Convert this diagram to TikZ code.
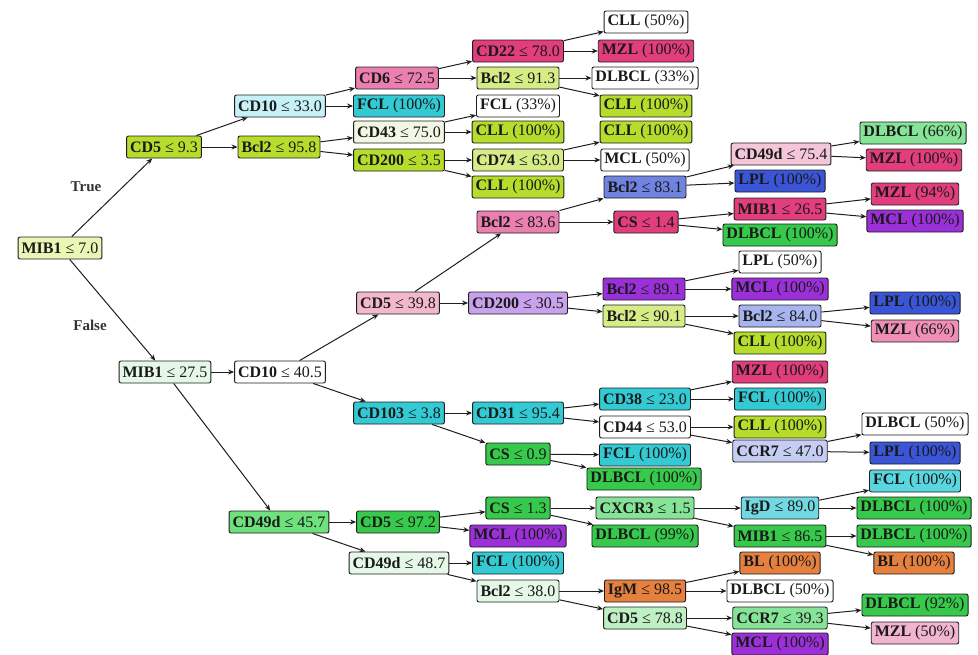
\documentclass[tikz,border=0pt]{standalone}
\usepackage{fontspec}
\setmainfont{Liberation Serif}
\usetikzlibrary{arrows.meta}

% fill colours of the boxes
\definecolor{cRoot}{HTML}{E9F6B5}
\definecolor{cLime}{HTML}{B6DC2C}
\definecolor{cPaleLime}{HTML}{D6EC86}
\definecolor{cPaleGreen}{HTML}{F1F7E2}
\definecolor{cMint}{HTML}{E5F8E7}
\definecolor{cPaleCyan}{HTML}{C6F1F6}
\definecolor{cCyan}{HTML}{33CAD4}
\definecolor{cSky}{HTML}{5AD6E0}
\definecolor{cTeal}{HTML}{72D9E2}
\definecolor{cPink}{HTML}{EA7FB0}
\definecolor{cMagenta}{HTML}{E23D7C}
\definecolor{cBlush}{HTML}{F4C6D8}
\definecolor{cRose}{HTML}{F3B8CE}
\definecolor{cRose2}{HTML}{F08FB6}
\definecolor{cRose3}{HTML}{F1B5D0}
\definecolor{cBlue}{HTML}{3A55D6}
\definecolor{cMidBlue}{HTML}{7083E0}
\definecolor{cLightBlue}{HTML}{A6B4EF}
\definecolor{cPaleBlue}{HTML}{C6CDF2}
\definecolor{cPurple}{HTML}{9B30D8}
\definecolor{cLavender}{HTML}{C9A2EE}
\definecolor{cGreen}{HTML}{36C94C}
\definecolor{cGreen2}{HTML}{6EE07C}
\definecolor{cGreen3}{HTML}{86E498}
\definecolor{cGreen4}{HTML}{BFF0C4}
\definecolor{cOrange}{HTML}{E6803E}
\definecolor{cWhite}{HTML}{FFFFFF}
\definecolor{cEdge}{HTML}{1E1E1E}

\newcommand\cnd[2]{\textbf{#1} ≤ #2}
\newcommand\lf[2]{\textbf{#1} (#2\%)}

\tikzset{
  box/.style={draw=cEdge, line width=0.9pt, rounded corners=2pt,
    inner xsep=3.5pt, inner ysep=0pt, minimum height=22pt,
    font=\fontsize{16}{18}\selectfont, text=black!90},
  link/.style={draw=cEdge, line width=1pt,
    -{Stealth[length=6pt,width=5pt]}},
  branchlabel/.style={font=\fontsize{15}{17}\selectfont\bfseries, text=black!80}
}

\begin{document}
\begin{tikzpicture}[x=1pt,y=-1pt]
\useasboundingbox (0,0) rectangle (978,654);

% root and first split
\node[box, fill=cRoot]      (r)  at (60,248)  {\cnd{MIB1}{7.0}};
\node[box, fill=cLime]      (a)  at (164,147) {\cnd{CD5}{9.3}};
\node[box, fill=cMint]      (F)  at (165,372) {\cnd{MIB1}{27.5}};

% upper subtree
\node[box, fill=cPaleCyan]  (b)  at (280,106) {\cnd{CD10}{33.0}};
\node[box, fill=cLime]      (c)  at (279,147) {\cnd{Bcl2}{95.8}};
\node[box, fill=cPink]      (d)  at (397,78)  {\cnd{CD6}{72.5}};
\node[box, fill=cCyan]      (e)  at (399,106) {\lf{FCL}{100}};
\node[box, fill=cPaleGreen] (f)  at (399,132) {\cnd{CD43}{75.0}};
\node[box, fill=cLime]      (g)  at (399,160) {\cnd{CD200}{3.5}};
\node[box, fill=cMagenta]   (h)  at (518,51)  {\cnd{CD22}{78.0}};
\node[box, fill=cPaleLime]  (i)  at (518,78)  {\cnd{Bcl2}{91.3}};
\node[box, fill=cWhite]     (j)  at (518,106) {\lf{FCL}{33}};
\node[box, fill=cLime]      (k)  at (518,132) {\lf{CLL}{100}};
\node[box, fill=cPaleLime]  (l)  at (518,160) {\cnd{CD74}{63.0}};
\node[box, fill=cLime]      (m)  at (518,187) {\lf{CLL}{100}};
\node[box, fill=cWhite]     (n)  at (646,22)  {\lf{CLL}{50}};
\node[box, fill=cMagenta]   (o)  at (646,51)  {\lf{MZL}{100}};
\node[box, fill=cWhite]     (p)  at (645,78)  {\lf{DLBCL}{33}};
\node[box, fill=cLime]      (q)  at (646,106) {\lf{CLL}{100}};
\node[box, fill=cLime]      (s)  at (646,132) {\lf{CLL}{100}};
\node[box, fill=cWhite]     (t)  at (645,160) {\lf{MCL}{50}};

% lower subtree, CD10 branch
\node[box, fill=cWhite]     (G)  at (280,372) {\cnd{CD10}{40.5}};
\node[box, fill=cRose]      (H)  at (398,303) {\cnd{CD5}{39.8}};
\node[box, fill=cPink]      (v)  at (518,222) {\cnd{Bcl2}{83.6}};
\node[box, fill=cMidBlue]   (u)  at (645,187) {\cnd{Bcl2}{83.1}};
\node[box, fill=cMagenta]   (w)  at (646,222) {\cnd{CS}{1.4}};
\node[box, fill=cBlush]     (x1) at (781,154) {\cnd{CD49d}{75.4}};
\node[box, fill=cBlue]      (x2) at (780,181) {\lf{LPL}{100}};
\node[box, fill=cMagenta]   (x3) at (780,209) {\cnd{MIB1}{26.5}};
\node[box, fill=cGreen]     (x4) at (780,235) {\lf{DLBCL}{100}};
\node[box, fill=cGreen3]    (x5) at (913,133) {\lf{DLBCL}{66}};
\node[box, fill=cMagenta]   (x6) at (914,160) {\lf{MZL}{100}};
\node[box, fill=cMagenta]   (x7) at (915,194) {\lf{MZL}{94}};
\node[box, fill=cPurple]    (x8) at (915,221) {\lf{MCL}{100}};

\node[box, fill=cLavender]  (I)  at (518,303) {\cnd{CD200}{30.5}};
\node[box, fill=cPurple]    (J)  at (644,289) {\cnd{Bcl2}{89.1}};
\node[box, fill=cPaleLime]  (K)  at (644,316) {\cnd{Bcl2}{90.1}};
\node[box, fill=cWhite]     (L)  at (780,262) {\lf{LPL}{50}};
\node[box, fill=cPurple]    (M)  at (780,289) {\lf{MCL}{100}};
\node[box, fill=cLightBlue] (N)  at (780,316) {\cnd{Bcl2}{84.0}};
\node[box, fill=cLime]      (O)  at (780,343) {\lf{CLL}{100}};
\node[box, fill=cBlue]      (P)  at (915,303) {\lf{LPL}{100}};
\node[box, fill=cRose2]     (Q)  at (915,331) {\lf{MZL}{66}};

\node[box, fill=cCyan]      (R)  at (399,413) {\cnd{CD103}{3.8}};
\node[box, fill=cCyan]      (S)  at (518,413) {\cnd{CD31}{95.4}};
\node[box, fill=cCyan]      (T)  at (645,399) {\cnd{CD38}{23.0}};
\node[box, fill=cWhite]     (U)  at (645,427) {\cnd{CD44}{53.0}};
\node[box, fill=cGreen]     (V)  at (518,454) {\cnd{CS}{0.9}};
\node[box, fill=cMagenta]   (W)  at (780,372) {\lf{MZL}{100}};
\node[box, fill=cCyan]      (X)  at (780,399) {\lf{FCL}{100}};
\node[box, fill=cLime]      (Y)  at (780,427) {\lf{CLL}{100}};
\node[box, fill=cPaleBlue]  (Z)  at (780,451) {\cnd{CCR7}{47.0}};
\node[box, fill=cWhite]     (Z1) at (915,424) {\lf{DLBCL}{50}};
\node[box, fill=cBlue]      (Z2) at (915,453) {\lf{LPL}{100}};
\node[box, fill=cCyan]      (V1) at (645,455) {\lf{FCL}{100}};
\node[box, fill=cGreen]     (V2) at (644,479) {\lf{DLBCL}{100}};

% lower subtree, CD49d branch
\node[box, fill=cGreen2]    (A)  at (279,522) {\cnd{CD49d}{45.7}};
\node[box, fill=cGreen]     (B)  at (398,522) {\cnd{CD5}{97.2}};
\node[box, fill=cGreen]     (C)  at (518,508) {\cnd{CS}{1.3}};
\node[box, fill=cPurple]    (D)  at (518,536) {\lf{MCL}{100}};
\node[box, fill=cMint]      (E)  at (399,563) {\cnd{CD49d}{48.7}};
\node[box, fill=cCyan]      (E1) at (518,563) {\lf{FCL}{100}};
\node[box, fill=cMint]      (E2) at (518,591) {\cnd{Bcl2}{38.0}};
\node[box, fill=cGreen3]    (C1) at (645,508) {\cnd{CXCR3}{1.5}};
\node[box, fill=cGreen]     (C2) at (645,536) {\lf{DLBCL}{99}};
\node[box, fill=cOrange]    (E3) at (645,591) {\cnd{IgM}{98.5}};
\node[box, fill=cGreen4]    (E4) at (645,618) {\cnd{CD5}{78.8}};
\node[box, fill=cTeal]      (C3) at (780,508) {\cnd{IgD}{89.0}};
\node[box, fill=cGreen]     (C4) at (780,536) {\cnd{MIB1}{86.5}};
\node[box, fill=cOrange]    (E5) at (780,563) {\lf{BL}{100}};
\node[box, fill=cWhite]     (E6) at (780,591) {\lf{DLBCL}{50}};
\node[box, fill=cGreen3]    (E7) at (780,618) {\cnd{CCR7}{39.3}};
\node[box, fill=cPurple]    (E8) at (780,644) {\lf{MCL}{100}};
\node[box, fill=cSky]       (C5) at (915,481) {\lf{FCL}{100}};
\node[box, fill=cGreen]     (C6) at (914,508) {\lf{DLBCL}{100}};
\node[box, fill=cGreen]     (C7) at (914,536) {\lf{DLBCL}{100}};
\node[box, fill=cOrange]    (C8) at (914,563) {\lf{BL}{100}};
\node[box, fill=cGreen]     (E9) at (915,605) {\lf{DLBCL}{92}};
\node[box, fill=cRose3]     (E10) at (915,633) {\lf{MZL}{50}};

% branch labels
\node[branchlabel] (tl) at (86,187) {True};
\node[branchlabel] (fl) at (90,325) {False};

% connectors
\foreach \p/\q in {r/a, r/F,
  a/b, a/c, b/d, b/e, c/f, c/g,
  d/h, d/i, h/n, h/o, i/p, i/q, f/j, f/k, g/l, g/m, l/s, l/t,
  F/G, F/A, G/H, G/R,
  H/v, H/I, v/u, v/w, u/x1, u/x2, x1/x5, x1/x6, w/x3, w/x4, x3/x7, x3/x8,
  I/J, I/K, J/L, J/M, K/N, K/O, N/P, N/Q,
  R/S, R/V, S/T, S/U, T/W, T/X, U/Y, U/Z, Z/Z1, Z/Z2, V/V1, V/V2,
  A/B, A/E, B/C, B/D, C/C1, C/C2, C1/C3, C1/C4, C3/C5, C3/C6, C4/C7, C4/C8,
  E/E1, E/E2, E2/E3, E2/E4, E3/E5, E3/E6, E4/E7, E4/E8, E7/E9, E7/E10}
  \draw[link] (\p) -- (\q);
\end{tikzpicture}
\end{document}
